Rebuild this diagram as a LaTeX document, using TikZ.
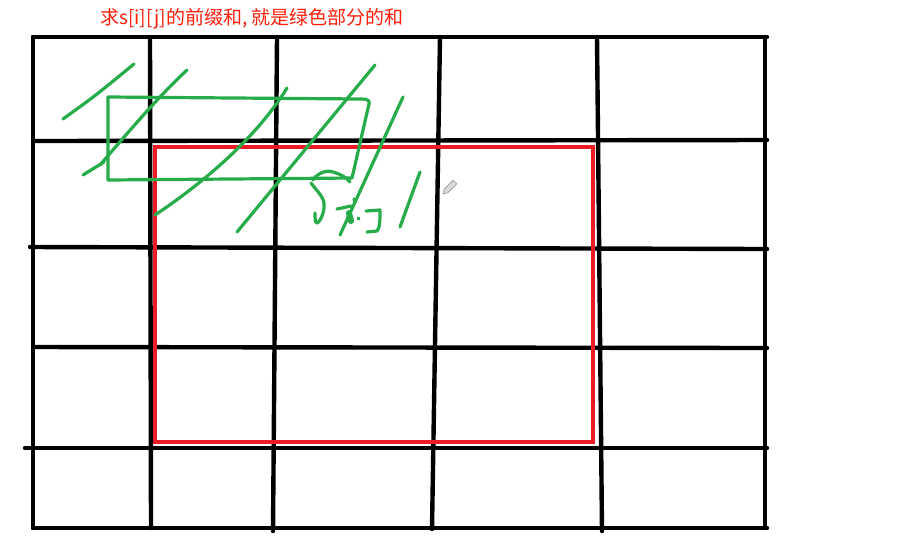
\documentclass[tikz,border=0pt]{standalone}
\usepackage{fontspec}
\newfontfamily\cjkfont{Noto Sans CJK SC}
\definecolor{pgreen}{RGB}{38,172,72}
\definecolor{pred}{RGB}{237,28,36}
\definecolor{tred}{RGB}{255,30,10}
\begin{document}
\begin{tikzpicture}[x=0.5pt,y=-0.5pt,
  gridline/.style={line width=2.2pt,black,line cap=round},
  redbox/.style={line width=2pt,pred},
  stroke/.style={line width=1.6pt,pgreen,line cap=round,line join=round},
  titletext/.style={font=\cjkfont\fontsize{9.5pt}{11pt}\selectfont,text=tred,inner sep=0pt,anchor=west}]
\useasboundingbox[fill=white] (0,0) rectangle (898,559);
% title
\node[titletext] (title) at (100,19) {求s[i][j]的前缀和, 就是绿色部分的和};
% grid horizontals
\draw[gridline] (33,37) -- (767,37);
\draw[gridline] (33,141) -- (767,140);
\draw[gridline] (30,247) -- (767,249);
\draw[gridline] (33,347) -- (767,348);
\draw[gridline] (25,448) -- (767,448);
\draw[gridline] (33,528) -- (767,528);
% grid verticals
\draw[gridline] (33,37) -- (33,528);
\draw[gridline] (150,37) -- (151,528);
\draw[gridline] (277,37) -- (273,531);
\draw[gridline] (440,37) -- (432,529);
\draw[gridline] (597,37) -- (602,531);
\draw[gridline] (765,37) -- (765,528);
% red rectangle
\draw[redbox] (155,147) rectangle (593,442);
% green strokes
\draw[stroke] (63,119) .. controls (95,96) .. (134,64);
\draw[stroke] (83,175) -- (104,162);
\draw[stroke] (100,165) .. controls (130,130) and (160,95) .. (187,70);
\draw[stroke] (108,97) -- (362,99) .. controls (368,99) and (370,101) .. (369,104) -- (352,178) -- (108,180) -- cycle;
\draw[stroke] (155,215) .. controls (200,185) and (255,140) .. (287,88);
\draw[stroke] (237,232) -- (375,65);
\draw[stroke] (340,235) -- (403,97);
\draw[stroke] (400,227) -- (420,172);
% handwritten S_{i,j}
\draw[stroke] (313,180) .. controls (318,172) and (328,170) .. (333,172) .. controls (340,174) and (346,177) .. (350,182);
\draw[stroke] (311,183) .. controls (316,190) and (323,196) .. (324,203) .. controls (325,212) and (320,222) .. (317,223) .. controls (315,223) and (315,218) .. (315,213);
\draw[stroke] (337,209) -- (351,206);
\draw[stroke,line width=3pt] (349,213) -- (351,221);
\draw[stroke] (354,199) -- (355,202);
\draw[stroke] (358,218) -- (359,219);
\draw[stroke] (366,211) -- (380,210) .. controls (380,220) and (380,228) .. (377,231) -- (367,232);
% pencil cursor
\draw[gray!80,fill=gray!30,line width=0.3pt] (443,194) -- (447.8,192.8) -- (456.8,183.8) -- (453.2,180.2) -- (444.2,189.2) -- cycle;
\end{tikzpicture}
\end{document}
